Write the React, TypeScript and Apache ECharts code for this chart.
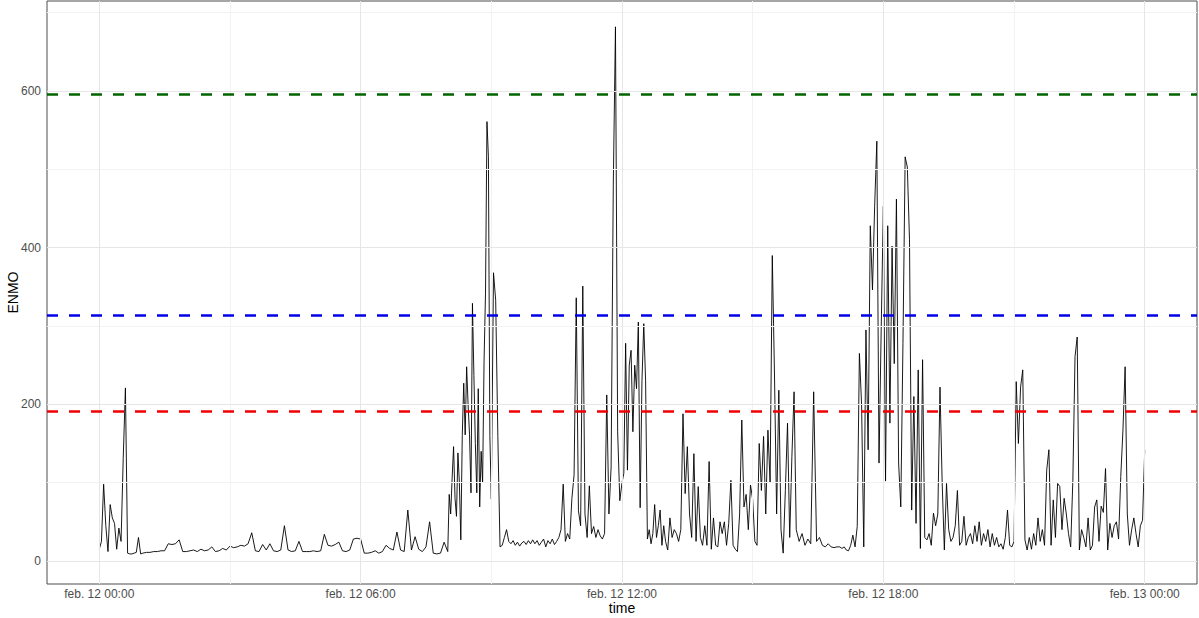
import React, { useEffect, useRef } from "react";
import * as echarts from "echarts";

// ENMO readings, one array per hour of feb. 12 (samples evenly spaced within the hour)
const h00 = [15, 25, 98, 45, 12, 72, 55, 48, 15, 42, 25, 131, 221, 10, 9, 9, 10, 11, 30, 9];
const h01 = [10, 11, 11, 12, 12, 13, 13, 22, 21, 22, 27, 12];
const h02 = [12, 13, 14, 12, 15, 13, 14, 18, 12, 13, 16, 14];
const h03 = [19, 17, 18, 20, 19, 22, 36, 13, 12, 21, 14, 22];
const h04 = [13, 12, 14, 45, 14, 12, 13, 25, 12, 12, 12, 13];
const h05 = [12, 13, 34, 20, 19, 21, 24, 13, 12, 14, 28, 29];
const h06 = [28, 10, 10, 11, 13, 10, 12, 20, 16, 14, 37, 14];
const h07 = [12, 65, 14, 31, 15, 12, 18, 50, 10, 9, 10, 24];
const h08 = [12, 85, 60, 105, 146, 80, 57, 138, 100, 27, 160, 227, 161, 248, 200, 161, 87, 329, 237, 150, 87, 220, 69, 140, 100, 255, 342, 561, 516, 160];
const h09 = [79, 368, 333, 159, 18, 20, 30, 40, 25, 22, 26, 20, 24, 19, 23, 25, 21, 26, 22, 27];
const h10 = [22, 26, 20, 24, 28, 18, 26, 22, 28, 21, 25, 30, 40, 98, 25, 35, 28, 80, 110, 336];
const h11 = [64, 45, 351, 60, 30, 96, 35, 44, 30, 40, 32, 28, 35, 212, 60, 120, 480, 682, 165, 77];
const h12 = [100, 112, 278, 116, 250, 269, 165, 250, 220, 305, 68, 230, 303, 230, 28, 40, 22, 35, 72, 30, 45, 65, 20, 45];
const h13 = [25, 14, 55, 30, 40, 35, 25, 40, 188, 86, 146, 60, 30, 137, 25, 95, 30, 20, 45, 20];
const h14 = [127, 15, 55, 20, 18, 50, 35, 50, 20, 48, 103, 20, 15, 12, 60, 180, 69, 85, 40, 97];
const h15 = [78, 25, 20, 150, 90, 159, 60, 167, 100, 390, 240, 60, 218, 40, 10, 90, 176, 30, 133, 216];
const h16 = [40, 25, 35, 20, 28, 22, 216, 25, 30, 20, 18, 22, 18, 17, 18];
const h17 = [18, 16, 18, 14, 13, 20, 33, 18, 44, 265, 200, 18, 295, 142, 428, 346, 453, 536, 125, 295];
const h18 = [453, 102, 428, 176, 402, 252, 462, 125, 69, 278, 516, 503, 410, 65, 210, 48, 244, 16, 257, 30];
const h19 = [27, 35, 20, 61, 45, 60, 222, 100, 14, 99, 40, 25, 30, 45, 90, 20, 25, 57, 20, 30];
const h20 = [35, 22, 45, 25, 50, 20, 35, 25, 40, 18, 35, 20, 30, 18, 22, 15, 30, 65, 20, 18];
const h21 = [25, 229, 150, 222, 244, 27, 14, 30, 15, 35, 20, 55, 25, 40, 20, 116, 142, 20, 78, 30];
const h22 = [99, 95, 40, 80, 60, 35, 18, 103, 261, 286, 14, 40, 30, 18, 55, 14, 20, 69, 78, 25];
const h23 = [70, 62, 118, 14, 48, 30, 45, 50, 28, 108, 167, 248, 60, 20, 40, 55, 35, 18, 45, 52];
const midnightReading = 142; // feb. 13 00:00

const hourly = [h00, h01, h02, h03, h04, h05, h06, h07, h08, h09, h10, h11, h12, h13, h14, h15, h16, h17, h18, h19, h20, h21, h22, h23];

// cut-point lines
const cutValues = [191, 314, 596];
const cutColors = ["#f00000", "#0000e6", "#006400"];

// axis ticks / grid
const yMajor = [0, 200, 400, 600];
const yMinor = [100, 300, 500, 700];
const xMajorHours = [0, 6, 12, 18, 24];
const xMinorHours = [3, 9, 15, 21];

const FONT = "'Liberation Sans', Arial, Helvetica, sans-serif";

function pad(n: number) {
  return n < 10 ? "0" + n : String(n);
}
function hourLabel(h: number) {
  const day = 12 + Math.floor(h / 24);
  return "feb. " + day + " " + pad(Math.round(h) % 24) + ":00";
}

export default function App() {
  const ref = useRef<HTMLDivElement>(null);

  useEffect(() => {
    if (!ref.current) return;
    const chart = echarts.init(ref.current, undefined, { renderer: "svg" });

    const points: [number, number][] = [];
    hourly.forEach((arr, h) => {
      arr.forEach((v, i) => points.push([h + i / arr.length, v]));
    });
    points.push([24, midnightReading]);

    const gridLines = [
      ...yMinor.map((v) => ({ yAxis: v, lineStyle: { color: "#f2f2f2", width: 1, type: "solid" } })),
      ...xMinorHours.map((v) => ({ xAxis: v, lineStyle: { color: "#f2f2f2", width: 1, type: "solid" } })),
      ...yMajor.map((v) => ({ yAxis: v, lineStyle: { color: "#e6e6e6", width: 1, type: "solid" } })),
      ...xMajorHours.map((v) => ({ xAxis: v, lineStyle: { color: "#e6e6e6", width: 1, type: "solid" } })),
    ];

    chart.setOption({
      animation: false,
      backgroundColor: "#ffffff",
      grid: {
        left: 47,
        right: 2,
        top: 1,
        bottom: 34,
        containLabel: false,
        outerBoundsMode: "none",
        show: true,
        borderColor: "#4d4d4d",
        borderWidth: 1,
        backgroundColor: "#ffffff",
      },
      xAxis: {
        type: "value",
        min: -1.2,
        max: 25.2,
        name: "time",
        nameLocation: "middle",
        nameGap: 17,
        nameMoveOverlap: false,
        nameTextStyle: { color: "#000", fontSize: 14, fontFamily: FONT },
        axisLine: { show: false },
        splitLine: { show: false },
        axisTick: { show: true, customValues: xMajorHours, length: 4, lineStyle: { color: "#333" } },
        axisLabel: {
          customValues: xMajorHours,
          formatter: (v: number) => hourLabel(v),
          color: "#4d4d4d",
          fontSize: 12,
          fontFamily: FONT,
          margin: 4,
        },
      },
      yAxis: {
        type: "value",
        min: -29.4,
        max: 715,
        name: "ENMO",
        nameLocation: "middle",
        nameGap: 27,
        nameRotate: 90,
        nameMoveOverlap: false,
        nameTextStyle: { color: "#000", fontSize: 14, fontFamily: FONT },
        axisLine: { show: false },
        splitLine: { show: false },
        axisTick: { show: true, customValues: yMajor, length: 4, lineStyle: { color: "#333" } },
        axisLabel: {
          customValues: yMajor,
          color: "#4d4d4d",
          fontSize: 12,
          fontFamily: FONT,
          margin: 6,
        },
      },
      series: [
        {
          type: "line",
          name: "grid",
          data: [[0, 0]],
          showSymbol: false,
          silent: true,
          lineStyle: { opacity: 0 },
          z: 1,
          markLine: {
            silent: true,
            symbol: ["none", "none"],
            label: { show: false },
            emphasis: { disabled: true },
            data: gridLines,
          },
        },
        {
          type: "line",
          name: "ENMO",
          data: points,
          showSymbol: false,
          lineStyle: { color: "#000000", width: 0.9 },
          z: 2,
        },
        {
          type: "line",
          name: "cuts",
          data: [[0, 0]],
          showSymbol: false,
          silent: true,
          lineStyle: { opacity: 0 },
          z: 3,
          markLine: {
            silent: true,
            symbol: ["none", "none"],
            label: { show: false },
            emphasis: { disabled: true },
            data: cutValues.map((v, i) => ({
              yAxis: v,
              lineStyle: { color: cutColors[i], width: 2.6, type: [11, 11] },
            })),
          },
        },
      ],
    });

    return () => chart.dispose();
  }, []);

  return (
    <div
      ref={ref}
      style={{ position: "fixed", left: 0, top: 0, width: 1199, height: 618, background: "#fff" }}
    />
  );
}
